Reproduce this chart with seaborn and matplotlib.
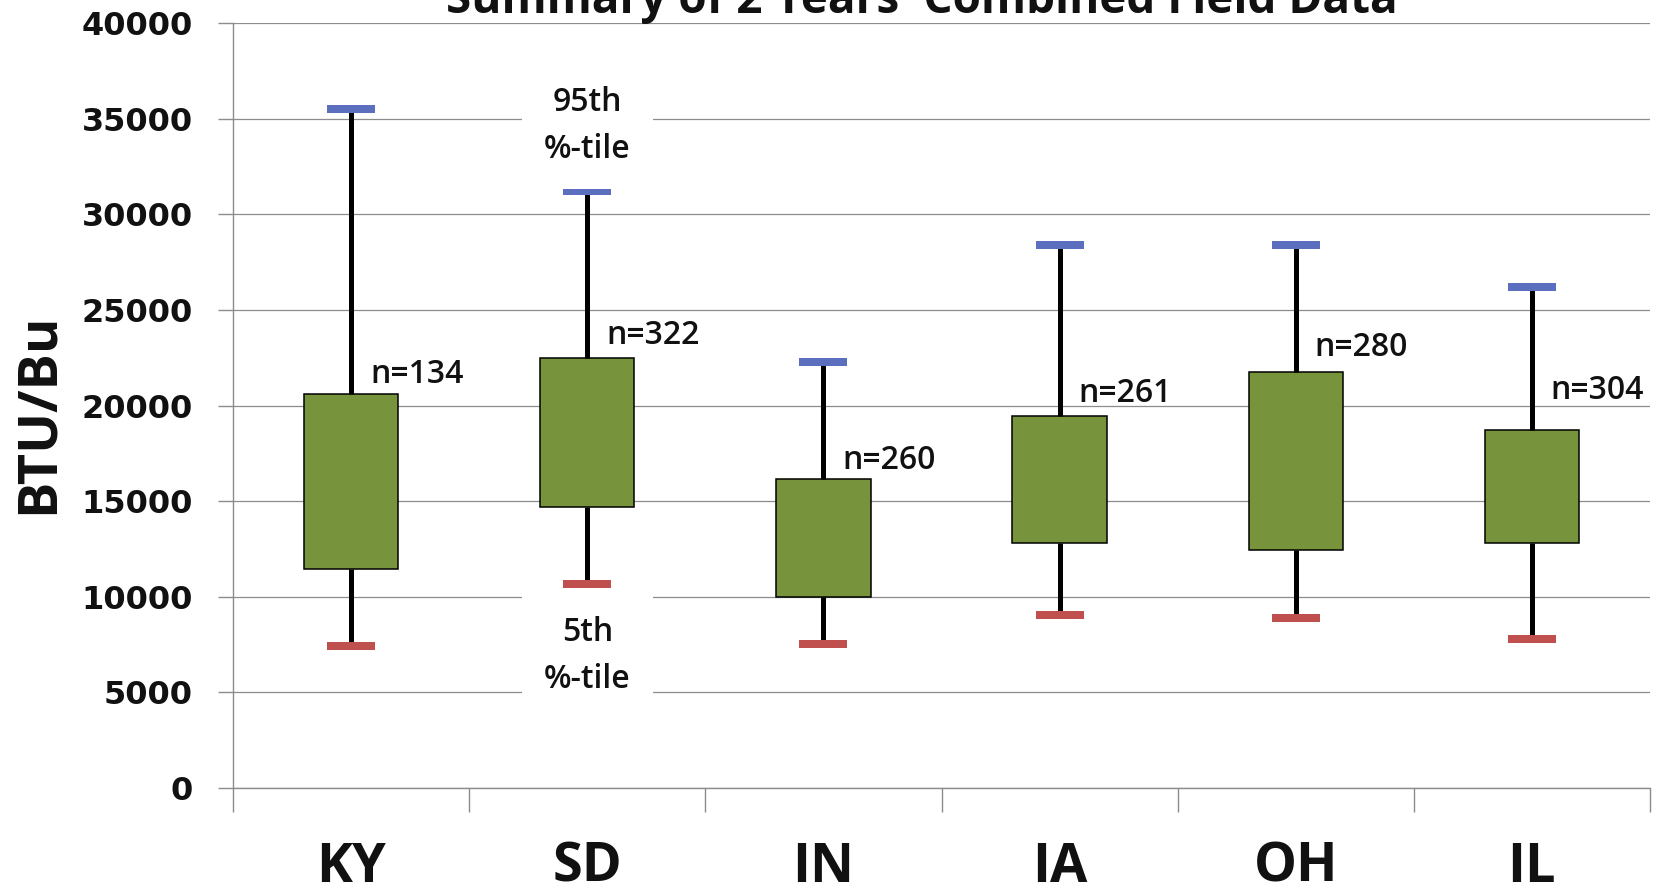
import numpy as np
import pandas as pd
import matplotlib
matplotlib.use("Agg")
import matplotlib.pyplot as plt
from matplotlib.path import Path
import seaborn as sns

# ---------------- data ----------------
states = ["KY", "SD", "IN", "IA", "OH", "IL"]
p95 = [35500, 31200, 22300, 28400, 28400, 26200]   # 95th percentile
q3 = [20600, 22500, 16150, 19450, 21750, 18700]    # box top
q1 = [11450, 14700, 10000, 12800, 12450, 12800]    # box bottom
p5 = [7450, 10650, 7550, 9050, 8900, 7800]         # 5th percentile
n_obs = [134, 322, 260, 261, 280, 304]
n_label_y = [21600, 23650, 17100, 20650, 23050, 20800]
yticks = [0, 5000, 10000, 15000, 20000, 25000, 30000, 35000, 40000]
title = "Summary of 2 Years' Combined Field Data"

# long-form table whose quartiles / extremes equal the summary values
rows = []
for s, a, b, c, d in zip(states, p5, q1, q3, p95):
    for v in (a, b, b, c, d):
        rows.append({"state": s, "btu": v})
df = pd.DataFrame(rows)

sns.set_theme(style="white")
plt.rcParams["font.family"] = ["Open Sans", "DejaVu Sans"]

W, H = 1662, 892
fig = plt.figure(figsize=(W / 100, H / 100), dpi=100)
ax = fig.add_axes([233 / W, 1 - 788 / H, (1650 - 233) / W, (788 - 23) / H])

GREEN = "#77933C"
BLUE = "#5B6FBE"
RED = "#C0504D"
GRID = "#8C8C8C"

sns.boxplot(data=df, x="state", y="btu", order=states, ax=ax,
            whis=(0, 100), width=0.4, color=GREEN, saturation=1,
            linecolor="black", linewidth=1.1, showcaps=False,
            showfliers=False,
            medianprops=dict(visible=False),
            whiskerprops=dict(color="black", linewidth=3.6),
            zorder=3)

cap = Path([(-1, -0.17), (1, -0.17), (1, 0.17), (-1, 0.17), (-1, -0.17)],
           [Path.MOVETO, Path.LINETO, Path.LINETO, Path.LINETO, Path.CLOSEPOLY])
xpos = np.arange(len(states))
sns.scatterplot(x=xpos, y=p95, marker=cap, s=1200, color=BLUE,
                linewidth=0, ax=ax, zorder=4)
sns.scatterplot(x=xpos, y=p5, marker=cap, s=1200, color=RED,
                linewidth=0, ax=ax, zorder=4)

# axes styling
ax.set_xlim(-0.5, len(states) - 0.5)
ax.set_ylim(0, 40000)
ax.set_yticks(yticks)
ax.set_yticklabels([str(t) for t in yticks], family="DejaVu Sans",
                   fontweight="bold", fontsize=23, color="#111111")
ax.set_xticks(xpos)
ax.set_xticklabels(states, fontsize=39, fontweight="bold", color="#111111")
ax.set_xticks(np.arange(-0.5, len(states)), minor=True)
ax.tick_params(axis="x", which="major", length=0, pad=38)
ax.tick_params(axis="x", which="minor", length=17, width=1.0, color=GRID,
               direction="out", bottom=True)
ax.tick_params(axis="y", which="major", length=11, width=1.0, color=GRID,
               direction="out", left=True, pad=18)
ax.set_xlabel("")
ax.set_ylabel("")
ax.grid(axis="y", color=GRID, linewidth=0.9, zorder=0)
ax.grid(axis="x", visible=False)
ax.set_axisbelow(True)
for side in ("top", "right"):
    ax.spines[side].set_visible(False)
for side in ("left", "bottom"):
    ax.spines[side].set_color(GRID)
    ax.spines[side].set_linewidth(1.0)

# n labels
for i, (n, y) in enumerate(zip(n_obs, n_label_y)):
    ax.text(i + 0.08, y, f"n={n}", ha="left", va="center", fontsize=23,
            fontweight="semibold", color="#111111", zorder=5)

# percentile legends (with white background breaking the gridline)
ax.text(1, 34600, "95th\n%-tile", ha="center", va="center", fontsize=23,
        fontweight="semibold", color="#111111", linespacing=1.55, zorder=5,
        bbox=dict(facecolor="white", edgecolor="none", pad=16))
ax.text(1, 6900, "5th\n%-tile", ha="center", va="center", fontsize=23,
        fontweight="semibold", color="#111111", linespacing=1.55, zorder=5,
        bbox=dict(facecolor="white", edgecolor="none", pad=16))

fig.text(39 / W, 1 - 413 / H, "BTU/Bu", rotation=90, ha="center",
         va="center", fontsize=39, fontweight="bold", color="#111111")
fig.text(922 / W, 1 - 13 / H, title, ha="center", va="baseline",
         fontsize=33, fontweight="bold", color="#111111")

fig.savefig("out.png", dpi=100)
